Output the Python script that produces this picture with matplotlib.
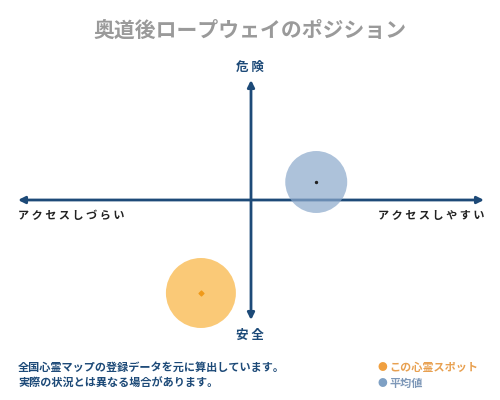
import matplotlib.pyplot as plt

plt.rcParams['font.family'] = ['Noto Sans CJK JP', 'DejaVu Sans']

title = "奥道後ロープウェイのポジション"
top_label = "危 険"
bottom_label = "安 全"
left_label = "アクセスしづらい"
right_label = "アクセスしやすい"
notes = ["全国心霊マップの登録データを元に算出しています。",
         "実際の状況とは異なる場合があります。"]
legend_names = ["この心霊スポット", "平均値"]

# positions on the access (x) / danger (y) plane, range -1..1
spot_x, spot_y = [-0.215], [-0.775]
avg_x, avg_y = [0.28], [0.15]

navy = "#1d4a78"
orange = "#f9b84a"
blue = "#8aa8cb"

fig = plt.figure(figsize=(5, 4), dpi=100)
ax = fig.add_axes([18 / 500, 80 / 400, (484 - 18) / 500, 240 / 400])
ax.set_xlim(-1, 1)
ax.set_ylim(-1, 1)
ax.axis('off')

arrow = dict(arrowstyle='-|>', color=navy, lw=2, mutation_scale=10, shrinkA=0, shrinkB=0)
ax.annotate('', xy=(1, 0), xytext=(0, 0), arrowprops=arrow)
ax.annotate('', xy=(-1, 0), xytext=(0, 0), arrowprops=arrow)
ax.annotate('', xy=(0, 1), xytext=(0, 0), arrowprops=arrow)
ax.annotate('', xy=(0, -1), xytext=(0, 0), arrowprops=arrow)

ax.scatter(avg_x, avg_y, s=1990, color=blue, alpha=0.7, edgecolors='none', zorder=3, clip_on=False)
ax.scatter(avg_x, avg_y, s=2, color='#222222', zorder=4, clip_on=False)
ax.scatter(spot_x, spot_y, s=2540, color=orange, alpha=0.75, edgecolors='none', zorder=3, clip_on=False)
ax.scatter(spot_x, spot_y, s=6, color='#f09a1a', marker='D', zorder=4, clip_on=False)

fig.text(0.5, 1 - 30 / 400, title, ha='center', va='center', fontsize=15,
         color='#9a9a9a', fontweight='bold')
fig.text(0.5, 1 - 67 / 400, top_label, ha='center', va='center', fontsize=9,
         color=navy, fontweight='bold')
fig.text(0.5, 1 - 335 / 400, bottom_label, ha='center', va='center', fontsize=9,
         color=navy, fontweight='bold')
fig.text(18 / 500, 1 - 215 / 400, " ".join(left_label), ha='left', va='center',
         fontsize=8, color='#222222', fontweight='bold')
fig.text(484 / 500, 1 - 215 / 400, " ".join(right_label), ha='right', va='center',
         fontsize=8, color='#222222', fontweight='bold')

for i, line in enumerate(notes):
    fig.text(18 / 500, 1 - (367 + 16 * i) / 400, line, ha='left', va='center',
             fontsize=8, color=navy, fontweight='bold')

leg_colors = ['#f0a040', '#7ea0c4']
leg_text_colors = ['#e8a050', '#7e98b8']
for i, (name, c, tc) in enumerate(zip(legend_names, leg_colors, leg_text_colors)):
    y = 1 - (367 + 16 * i) / 400
    fig.text(377 / 500, y, "●", ha='left', va='center', fontsize=7, color=c)
    fig.text(389 / 500, y, name, ha='left', va='center', fontsize=8, color=tc,
             fontweight='bold')

fig.savefig('out.png', dpi=100)
